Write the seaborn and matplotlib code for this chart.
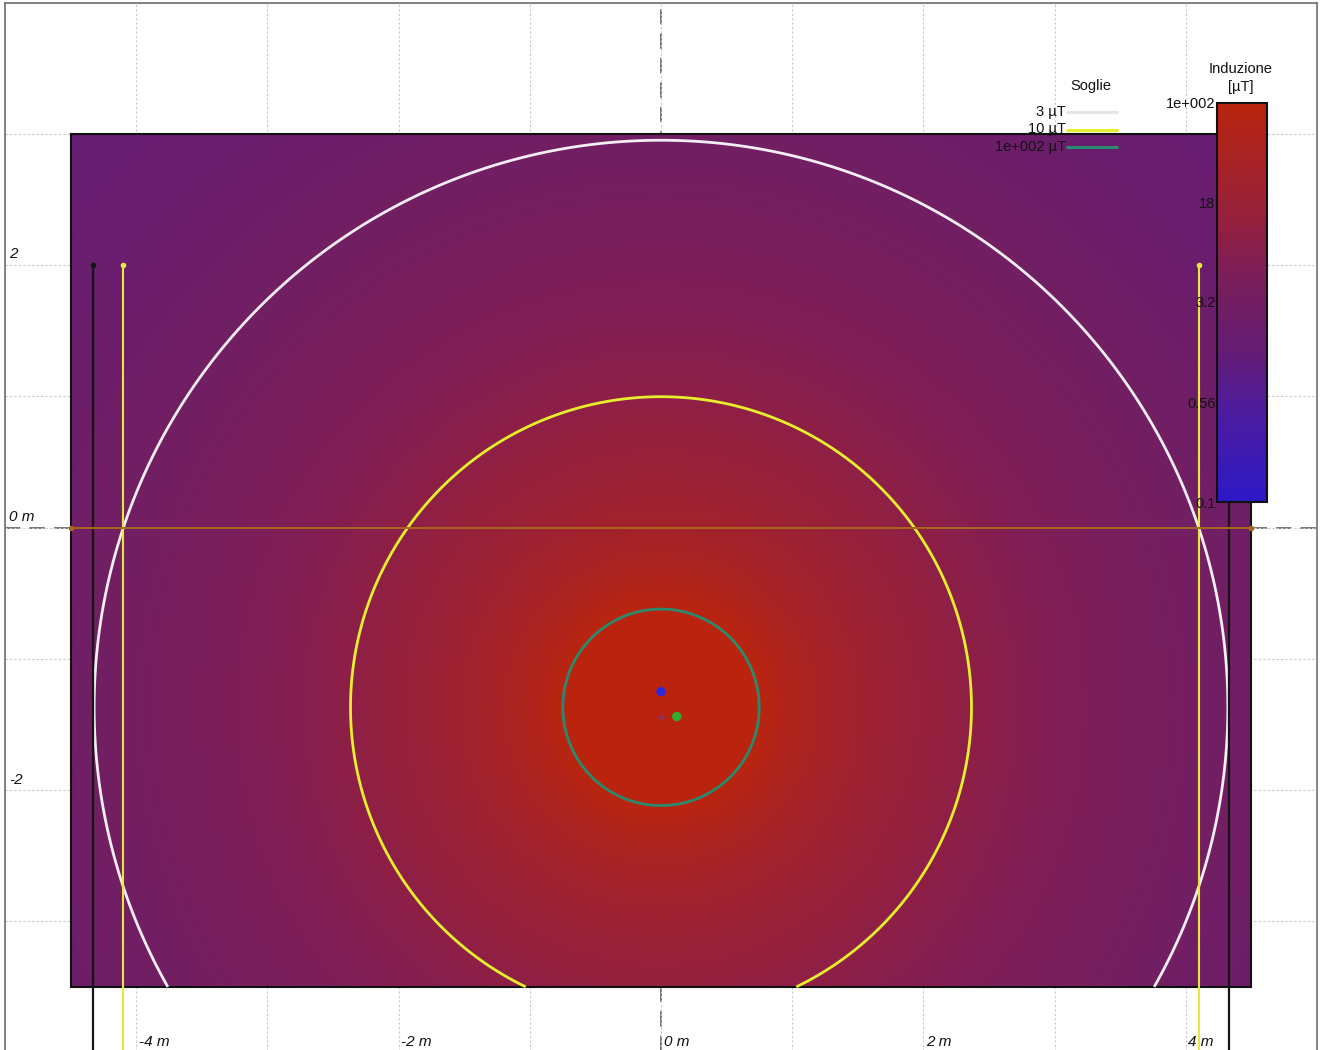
import numpy as np
import pandas as pd
import matplotlib
matplotlib.use("Agg")
import matplotlib.pyplot as plt
import seaborn as sns
from matplotlib.colors import LinearSegmentedColormap, LogNorm
from matplotlib.lines import Line2D

# ---------------- data ----------------
source_x = 0.0            # m, centre of the iso-induction circles
source_y = -1.37          # m
field_k = 56.0            # µT·m², B = k / r²
map_x = [-4.5, 4.5]       # extent of the coloured map
map_y = [-3.5, 3.0]

threshold_levels = [3, 10, 100]
threshold_labels = ["3 µT", "10 µT", "1e+002 µT"]
threshold_colors = ["#f2eef2", "#e6ef2e", "#2a8a6e"]

cbar_ticks = [0.1, 0.56, 3.2, 18, 100]
cbar_labels = ["0.1", "0.56", "3.2", "18", "1e+002"]

x_tick_vals = [-4, -2, 0, 2, 4]
x_tick_text = ["-4 m", "-2 m", "0 m", "2 m", "4 m"]
y_tick_vals = [2, 0, -2]
y_tick_text = ["2", "0 m", "-2"]

pole_x = [-4.33, -4.10, 4.10, 4.33]
pole_colors = ["#151515", "#e8e83a", "#e8e83a", "#151515"]
pole_top = 2.0

points = pd.DataFrame({
    "x": [0.0, 0.12],
    "y": [-1.25, -1.44],
    "kind": ["a", "b"],
})
point_colors = {"a": "#2a2ae0", "b": "#2fae2f"}

# ---------------- style ----------------
sns.set_theme(style="white")
plt.rcParams["font.family"] = ["Liberation Sans", "DejaVu Sans"]

fig = plt.figure(figsize=(13.24, 10.50), dpi=100)
W, H = 1324, 1050
ax = fig.add_axes([5 / W, -2.5 / H, 1312 / W, 1050 / H])
ax.set_xlim(-5, 5)
ax.set_ylim(-4, 4)
ax.set_facecolor("white")

# grid
ax.set_xticks(np.arange(-5, 6, 1))
ax.set_yticks(np.arange(-4, 5, 1))
ax.tick_params(length=0, labelbottom=False, labelleft=False)
ax.grid(True, color="#c8c8c8", linestyle=(0, (2, 2)), linewidth=0.8, zorder=0)
ax.set_axisbelow(True)
for s in ["left", "top", "right"]:
    ax.spines[s].set_color("#707070")
    ax.spines[s].set_linewidth(1.2)
ax.spines["bottom"].set_visible(False)

# dashed main axes
ax.axhline(0, color="#505050", lw=1.1, ls=(0, (10, 6)), zorder=0.5)
ax.axvline(0, color="#505050", lw=1.1, ls=(0, (10, 6)), zorder=0.5)

# colour map
cmap = LinearSegmentedColormap.from_list("induz", [
    (0.00, (45/255, 25/255, 200/255)),
    (0.25, (80/255, 28/255, 152/255)),
    (0.38, (100/255, 28/255, 115/255)),
    (0.50, (114/255, 30/255, 98/255)),
    (0.60, (130/255, 30/255, 84/255)),
    (0.70, (148/255, 32/255, 62/255)),
    (0.90, (172/255, 35/255, 30/255)),
    (1.00, (186/255, 36/255, 14/255)),
])
norm = LogNorm(vmin=0.1, vmax=100)

xs = np.linspace(map_x[0], map_x[1], 901)
ys = np.linspace(map_y[0], map_y[1], 651)
X, Y = np.meshgrid(xs, ys)
R2 = (X - source_x) ** 2 + (Y - source_y) ** 2
B = np.clip(field_k / np.maximum(R2, 1e-6), 0.1, 100)

mesh = ax.pcolormesh(X, Y, B, cmap=cmap, norm=norm, shading="auto", zorder=1, rasterized=True)
ax.add_patch(plt.Rectangle((map_x[0], map_y[0]), map_x[1] - map_x[0], map_y[1] - map_y[0],
                           fill=False, ec="#111111", lw=1.5, zorder=1.2))

Bc = field_k / np.maximum(R2, 1e-6)
ax.contour(X, Y, Bc, levels=threshold_levels, colors=threshold_colors, linewidths=2.0, zorder=2)

# poles / vertical lines
for px, pc in zip(pole_x, pole_colors):
    ax.plot([px, px], [pole_top, -4.2], color=pc, lw=1.5 if pc != "#151515" else 1.6, zorder=3,
            solid_capstyle="butt")
    ax.plot([px], [pole_top], marker="o", ms=3, color=pc, zorder=3.1)

# orange horizontal line
ax.plot(map_x, [0, 0], color="#a8661c", lw=1.4, zorder=3)
ax.plot(map_x, [0, 0], ls="none", marker="o", ms=3, color="#a8661c", zorder=3.1)

# conductors
sns.scatterplot(data=points, x="x", y="y", hue="kind", palette=point_colors, s=45,
                edgecolor="none", legend=False, ax=ax, zorder=4)
ax.plot([source_x], [-1.44], marker="+", ms=5, color="#6a3aa0", mew=1, zorder=4)
ax.set_xlabel("")
ax.set_ylabel("")

# axis labels inside
for v, t in zip(x_tick_vals, x_tick_text):
    ax.text(v + 0.02, -3.92, t, ha="left", va="center", fontsize=11, style="italic", color="#111111", zorder=5)
for v, t in zip(y_tick_vals, y_tick_text):
    ax.text(-4.97, v + 0.08, t, ha="left", va="center", fontsize=11, style="italic", color="#111111", zorder=5)

# colorbar
cax = fig.add_axes([1217 / W, (H - 502) / H, 50 / W, 399 / H])
cb = fig.colorbar(mesh, cax=cax, orientation="vertical")
cb.set_ticks(cbar_ticks)
cb.set_ticklabels(cbar_labels)
cb.minorticks_off()
cax.yaxis.set_ticks_position("left")
cax.tick_params(length=0, pad=1, labelsize=10.5, colors="#111111")
cb.outline.set_linewidth(1.5)
cb.outline.set_edgecolor("#111111")
fig.text(1241 / W, 1 - 69 / H, "Induzione", ha="center", va="center", fontsize=10.5, color="#111111")
fig.text(1241 / W, 1 - 87 / H, "[µT]", ha="center", va="center", fontsize=10.5, color="#111111")

# thresholds legend
fig.text(1091 / W, 1 - 86 / H, "Soglie", ha="center", va="center", fontsize=10.5, color="#111111")
for i, (lab, col) in enumerate(zip(threshold_labels, threshold_colors)):
    yy = 1 - (112 + 17.5 * i) / H
    fig.text(1066 / W, yy, lab, ha="right", va="center", fontsize=10.5, color="#111111", zorder=6)
    fig.add_artist(Line2D([1067 / W, 1117 / W], [yy, yy], color=col if i else "#e6e6e6",
                          lw=2.2, transform=fig.transFigure, zorder=6))

fig.savefig("out.png", dpi=100)
